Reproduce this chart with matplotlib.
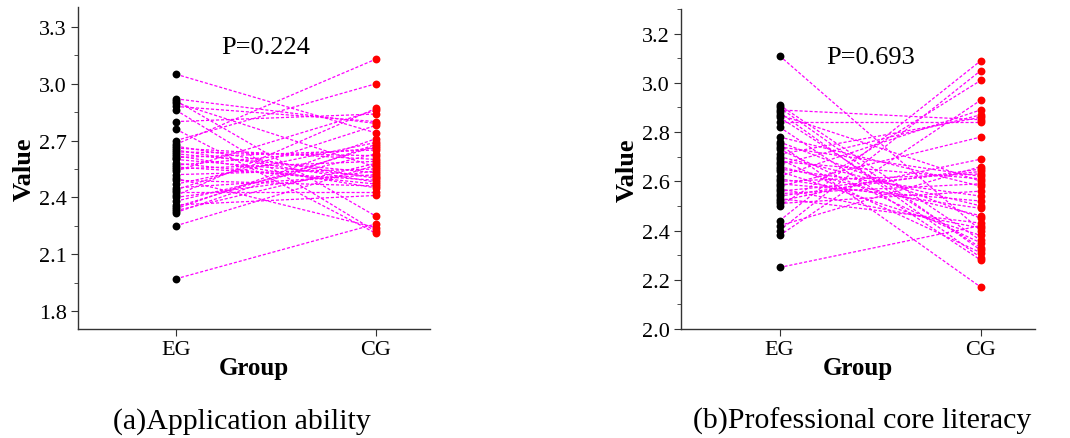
import matplotlib.pyplot as plt
from matplotlib.ticker import MultipleLocator

plt.rcParams['font.family'] = ['Liberation Serif', 'DejaVu Serif']

groups = ['EG', 'CG']

# (a) Application ability, paired values (EG -> CG)
eg_a = [3.05, 2.92, 2.91, 2.90, 2.88, 2.86, 2.80, 2.76, 2.70, 2.68,
        2.67, 2.66, 2.65, 2.64, 2.63, 2.62, 2.61, 2.60, 2.58, 2.57,
        2.56, 2.55, 2.54, 2.52, 2.50, 2.49, 2.47, 2.45, 2.44, 2.43,
        2.41, 2.40, 2.38, 2.36, 2.35, 2.34, 2.33, 2.32, 2.25, 1.97]
cg_a = [2.74, 2.79, 2.30, 2.56, 2.80, 2.22, 2.84, 2.21, 3.00, 3.13,
        2.50, 2.60, 2.48, 2.62, 2.53, 2.45, 2.65, 2.51, 2.47, 2.66,
        2.49, 2.59, 2.86, 2.55, 2.24, 2.46, 2.69, 2.52, 2.78, 2.43,
        2.87, 2.54, 2.63, 2.41, 2.67, 2.71, 2.58, 2.68, 2.57, 2.26]
p_a = 'P=0.224'

# (b) Professional core literacy, paired values (EG -> CG)
eg_b = [3.11, 2.91, 2.90, 2.89, 2.88, 2.87, 2.86, 2.84, 2.82, 2.78,
        2.76, 2.75, 2.74, 2.73, 2.71, 2.70, 2.69, 2.68, 2.67, 2.66,
        2.65, 2.64, 2.62, 2.61, 2.60, 2.59, 2.58, 2.57, 2.56, 2.55,
        2.54, 2.53, 2.52, 2.51, 2.50, 2.44, 2.42, 2.40, 2.38, 2.25]
cg_b = [2.40, 2.36, 2.32, 2.85, 2.29, 2.60, 2.33, 2.84, 2.28, 2.58,
        2.45, 2.17, 2.62, 2.35, 2.86, 2.50, 2.31, 2.61, 2.87, 2.46,
        2.54, 2.38, 2.89, 2.49, 2.63, 2.52, 2.78, 2.41, 2.64, 2.59,
        2.65, 2.43, 2.69, 2.56, 3.01, 3.09, 2.66, 3.05, 2.93, 2.42]
p_b = 'P=0.693'

fig = plt.figure(figsize=(10.7, 4.39), dpi=100)
ax1 = fig.add_axes([0.0729, 0.2483, 0.329, 0.7335])
ax2 = fig.add_axes([0.6364, 0.2483, 0.331, 0.7289])


def draw(ax, eg, cg, ptxt, ylim, step, ptext_y):
    for a, b in zip(eg, cg):
        ax.plot([1, 2], [a, b], ls=(0, (2.5, 1.5)), color='#FF00FF', lw=0.9, zorder=1)
    ax.scatter([1] * len(eg), eg, s=32, color='black', zorder=3, linewidths=0)
    ax.scatter([2] * len(cg), cg, s=32, color='red', zorder=3, linewidths=0)
    ax.set_xlim(0.51, 2.27)
    ax.set_ylim(*ylim)
    ax.set_xticks([1, 2])
    ax.set_xticklabels(groups)
    ax.yaxis.set_major_locator(MultipleLocator(step))
    ax.yaxis.set_minor_locator(MultipleLocator(step / 2))
    ax.yaxis.set_major_formatter('{x:.1f}')
    for s in ['top', 'right']:
        ax.spines[s].set_visible(False)
    for s in ['left', 'bottom']:
        ax.spines[s].set_color('#333333')
        ax.spines[s].set_linewidth(1.0)
    ax.tick_params(axis='both', which='major', direction='out', length=5, labelsize=16,
                   colors='#333333', labelcolor='black', pad=3)
    ax.tick_params(axis='y', which='minor', direction='out', length=3, colors='#333333')
    ax.set_xlabel('Group', fontsize=18, fontweight='bold', labelpad=-2)
    ax.set_ylabel('Value', fontsize=19, fontweight='bold', labelpad=2)
    ax.text(1.45, ptext_y, ptxt, fontsize=19, ha='center', va='center')


draw(ax1, eg_a, cg_a, p_a, (1.705, 3.405), 0.3, 3.195)
draw(ax2, eg_b, cg_b, p_b, (2.0, 3.3), 0.2, 3.107)

fig.text(0.226, 0.04, '(a)Application ability', fontsize=21.5, ha='center', va='center')
fig.text(0.806, 0.04, '(b)Professional core literacy', fontsize=21.5, ha='center', va='center')

fig.savefig('out.png', dpi=100)
